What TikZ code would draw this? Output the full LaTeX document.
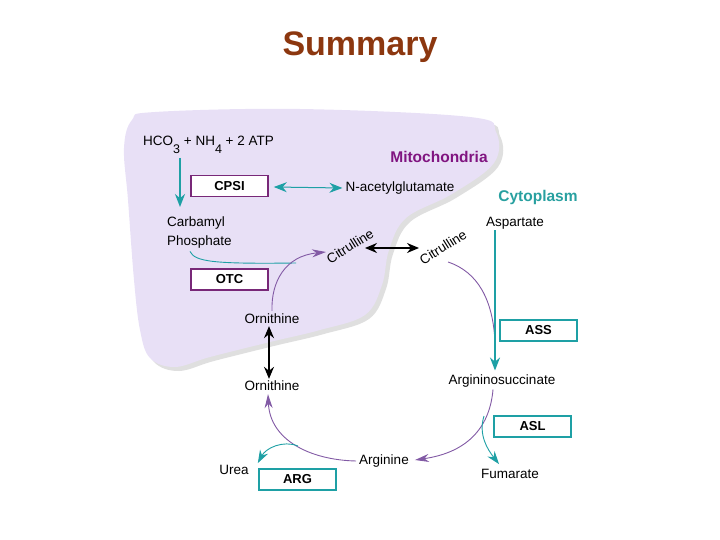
\documentclass[tikz,border=0pt]{standalone}
\usepackage{fontspec}
\setmainfont{Liberation Sans}
\usetikzlibrary{arrows.meta,calc}
\definecolor{plum}{RGB}{130,90,165}
\definecolor{tealc}{RGB}{30,160,165}
\definecolor{boxpurple}{RGB}{120,40,120}
\definecolor{titlebrown}{RGB}{140,55,15}
\definecolor{mitoc}{RGB}{128,20,128}
\definecolor{cytoc}{RGB}{40,160,160}
\definecolor{lavender}{RGB}{232,224,246}
\tikzset{
  lbl/.style={font=\fontsize{13.5}{15}\selectfont, inner sep=1pt},
  enz/.style={draw, line width=1.6pt, fill=white, minimum width=77pt, minimum height=21pt,
              inner sep=0pt, font=\fontsize{13}{15}\selectfont\bfseries},
  penz/.style={enz, draw=boxpurple},
  tenz/.style={enz, draw=tealc},
  parr/.style={draw=plum, line width=0.9pt, -{Stealth[length=14pt,width=8pt]}},
  pline/.style={draw=plum, line width=0.9pt},
  tarr/.style={draw=tealc, line width=0.9pt, -{Stealth[length=13pt,width=9pt]}},
  tthick/.style={draw=tealc, line width=1.8pt, -{Stealth[length=13pt,width=10pt]}},
  tdbl/.style={draw=tealc, line width=1pt, {Stealth[length=13pt,width=10pt]}-{Stealth[length=13pt,width=10pt]}},
  bdbl/.style={draw=black, line width=1.3pt, {Stealth[length=12pt,width=10pt]}-{Stealth[length=12pt,width=10pt]}},
}
\begin{document}
\begin{tikzpicture}[x=1pt,y=-1pt]
\useasboundingbox (0,0) rectangle (720,540);
% title
\node[font=\fontsize{34}{40}\selectfont\bfseries, text=titlebrown] (title) at (360,47) {Summary};
% mitochondria blob with shadow
\def\blob{plot[smooth cycle, tension=0.6] coordinates {(155,112) (300,109) (470,117) (496,132) (494,163) (452,194) (406,218) (389,250) (382,285) (365,315) (320,330) (270,342) (210,357) (175,367) (150,358) (140,330) (134,280) (128,200) (124,148) (132,120)}}
\fill[gray!25, shift={(4,4)}] \blob;
\fill[lavender] \blob;
% labels
\node[font=\fontsize{15.5}{18}\selectfont\bfseries, text=mitoc] (mito) at (439,157) {Mitochondria};
\node[font=\fontsize{15.5}{18}\selectfont\bfseries, text=cytoc] (cyto) at (538,197) {Cytoplasm};
\node[lbl, anchor=west] (hco) at (142,145) {HCO\raisebox{-1.1ex}{\fontsize{12.5}{12}\selectfont 3} + NH\raisebox{-1.1ex}{\fontsize{12.5}{12}\selectfont 4} + 2 ATP};
\node[penz] (cpsi) at (229.5,186) {CPSI};
\node[lbl] (nag) at (400,188) {N-acetylglutamate};
\node[lbl, anchor=west] (carb1) at (166,223) {Carbamyl};
\node[lbl, anchor=west] (carb2) at (166,242) {Phosphate};
\node[penz] (otc) at (229.5,279.5) {OTC};
\node[lbl, rotate=32] (cit1) at (350,246) {Citrulline};
\node[lbl, rotate=32] (cit2) at (443,247) {Citrulline};
\node[lbl] (asp) at (515,223) {Aspartate};
\node[tenz] (ass) at (538.5,330.5) {ASS};
\node[lbl] (argsuc) at (502,381) {Argininosuccinate};
\node[tenz] (asl) at (532.5,426.5) {ASL};
\node[lbl] (fum) at (510,474) {Fumarate};
\node[lbl] (arg) at (384,461) {Arginine};
\node[tenz] (argb) at (297.5,479.5) {ARG};
\node[lbl] (urea) at (234,470) {Urea};
\node[lbl] (orn1) at (272,319) {Ornithine};
\node[lbl] (orn2) at (272,386) {Ornithine};
% coordinates
\coordinate (a1) at (180,158);
\coordinate (a2) at (180,207);
\coordinate (cpj) at (296,263);
\coordinate (c1tip) at (326,252);
\coordinate (asj) at (495,342);
\coordinate (asltop) at (484,416);
\coordinate (argj) at (298,446);
\coordinate (bl) at (365,248);
\coordinate (br) at (419,248);
% connectors
\draw[tthick] (a1) -- (a2);
\draw[tdbl] ($(cpsi.east)+(5,1)$) -- ($(nag.west)+(-2,0)$);
\draw[draw=tealc, line width=0.9pt] ($(carb2.south west)+(24,2)$) .. controls (195,262) and (215,264) .. (cpj);
\draw[parr] ($(orn1.north)+(0,-2)$) .. controls (271,282) and (285,256) .. (c1tip);
\draw[bdbl] (bl) -- (br);
\draw[pline] (448,262) .. controls (478,272) and (493,300) .. (asj);
\draw[tthick] ($(asp.south)+(-20,0)$) -- ($(argsuc.north)+(-7,-3)$);
\draw[parr] ($(argsuc.south)+(-9,1)$) .. controls (490,425) and (470,452) .. ($(arg.east)+(5,-1)$);
\draw[tarr] (asltop) .. controls (478,435) and (488,450) .. ($(fum.north)+(-11,-4)$);
\draw[parr] ($(arg.west)+(-2,0)$) .. controls (310,460) and (270,440) .. ($(orn2.south)+(-4,2)$);
\draw[tarr] (argj) .. controls (283,440) and (266,448) .. ($(urea.north east)+(8,-1)$);
\draw[bdbl] ($(orn1.south)+(-3,1)$) -- ($(orn2.north)+(-3,-1)$);
\end{tikzpicture}
\end{document}
